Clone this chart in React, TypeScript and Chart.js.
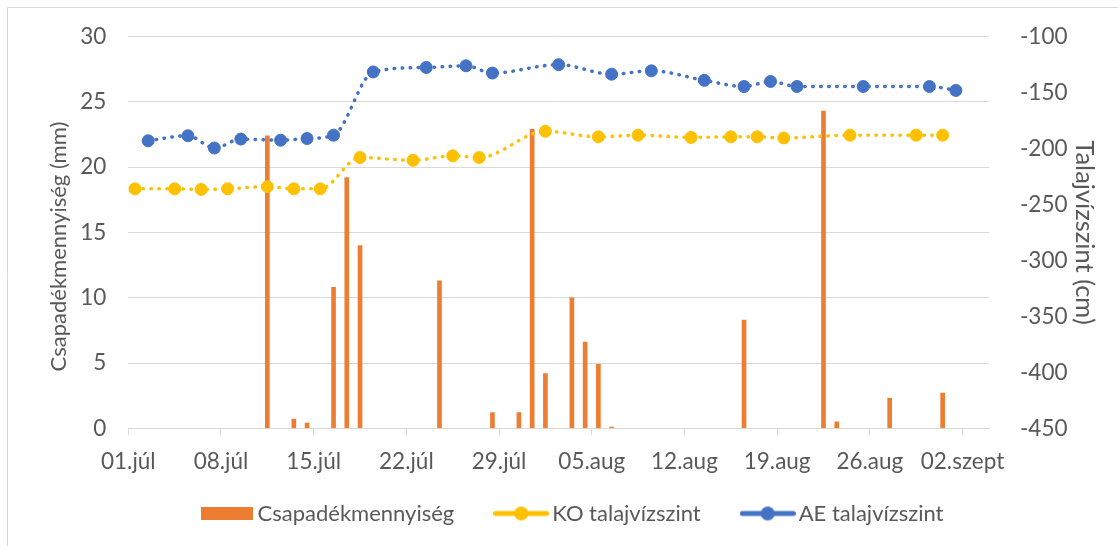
import React, { useEffect, useRef } from 'react';
import { Chart, registerables } from 'chart.js';

Chart.register(...registerables);

// ---- data ----
const tickDates = ['07-01', '07-08', '07-15', '07-22', '07-29', '08-05', '08-12', '08-19', '08-26', '09-02'];
const tickLabels = ['01.júl', '08.júl', '15.júl', '22.júl', '29.júl', '05.aug', '12.aug', '19.aug', '26.aug', '02.szept'];

const rainDates = ['07-11', '07-13', '07-14', '07-16', '07-17', '07-18', '07-24', '07-28', '07-30', '07-31', '08-01', '08-03', '08-04', '08-05', '08-06', '08-16', '08-22', '08-23', '08-27', '08-31'];
const rainMm = [22.4, 0.7, 0.4, 10.8, 19.2, 14.0, 11.3, 1.2, 1.2, 22.9, 4.2, 10.0, 6.6, 4.9, 0.1, 8.3, 24.3, 0.5, 2.3, 2.7];

const koDates = ['07-01', '07-04', '07-06', '07-08', '07-11', '07-13', '07-15', '07-18', '07-22', '07-25', '07-27', '08-01', '08-05', '08-08', '08-12', '08-15', '08-17', '08-19', '08-24', '08-29', '08-31'];
const koCm = [-236, -236, -236.5, -236, -234, -236, -236, -208, -210.5, -206.5, -208, -184.5, -189.5, -188, -190, -189.5, -189.5, -190.5, -188, -188, -188];

const aeDates = ['07-02', '07-05', '07-07', '07-09', '07-12', '07-14', '07-16', '07-19', '07-23', '07-26', '07-28', '08-02', '08-06', '08-09', '08-13', '08-16', '08-18', '08-20', '08-25', '08-30', '09-01'];
const aeCm = [-193, -188.5, -199.5, -191.5, -192.5, -191, -188, -131.5, -127.5, -126, -132.5, -125, -133.5, -130.5, -139, -144.5, -140, -144.5, -144.5, -144.5, -148];

const seriesNames = ['Csapadékmennyiség', 'KO talajvízszint', 'AE talajvízszint'];
const axisTitles = ['Csapadékmennyiség (mm)', 'Talajvízszint (cm)'];

// ---- style ----
const FONT = 'Lato, "Open Sans", sans-serif';
const TEXT = '#595959';
const GRID = '#D9D9D9';
const ORANGE = '#ED7D31';
const YELLOW = '#FFC000';
const BLUE = '#4472C4';
const FS = 22.5;
const LEGEND_FS = 22;

const monthStart: Record<number, number> = { 7: 0, 8: 31, 9: 62 };
const dayIndex = (md: string) => {
  const [m, d] = md.split('-').map(Number);
  return monthStart[m] + d - 1;
};
const toPoints = (dates: string[], vals: number[]) =>
  dates.map((d, i) => ({ x: dayIndex(d) + 0.5, y: vals[i] }));

function boxIcon(color: string, w: number, h: number) {
  const c = document.createElement('canvas');
  c.width = w;
  c.height = h;
  const g = c.getContext('2d')!;
  g.fillStyle = color;
  g.fillRect(0, 0, w, h);
  return c;
}
function lineIcon(color: string, w: number, h: number, lw: number, r: number) {
  const c = document.createElement('canvas');
  c.width = w;
  c.height = h;
  const g = c.getContext('2d')!;
  g.strokeStyle = color;
  g.lineWidth = lw;
  g.lineCap = 'round';
  g.beginPath();
  g.moveTo(lw / 2, h / 2);
  g.lineTo(w - lw / 2, h / 2);
  g.stroke();
  g.fillStyle = color;
  g.beginPath();
  g.arc(w / 2, h / 2, r, 0, Math.PI * 2);
  g.fill();
  return c;
}

const frame = {
  id: 'frame',
  afterLayout(chart: any) {
    // let the x tick labels extend below the (short) axis box without clipping
    const x = chart.scales.x;
    if (x) x.bottom = chart.height;
  },
  afterDraw(chart: any) {
    const { ctx, width, height } = chart;
    ctx.save();
    ctx.strokeStyle = GRID;
    ctx.lineWidth = 1;
    ctx.beginPath();
    ctx.moveTo(7.5, height);
    ctx.lineTo(7.5, 7.5);
    ctx.lineTo(width, 7.5);
    ctx.stroke();
    ctx.restore();
  },
};

export default function App() {
  const ref = useRef<HTMLCanvasElement>(null);
  useEffect(() => {
    if (!ref.current) return;
    const icons = [boxIcon(ORANGE, 52, 13), lineIcon(YELLOW, 56, 16, 5, 7), lineIcon(BLUE, 56, 16, 5, 7)];
    const lineCommon = {
      type: 'line' as const,
      yAxisID: 'y1',
      borderWidth: 3.5,
      borderDash: [0.5, 7.5],
      borderCapStyle: 'round' as const,
      cubicInterpolationMode: 'monotone' as const,
      pointRadius: 6,
      pointBorderWidth: 1,
      order: 0,
    };
    const chart = new Chart(ref.current, {
      type: 'bar',
      data: {
        datasets: [
          {
            type: 'bar',
            label: seriesNames[0],
            data: toPoints(rainDates, rainMm),
            backgroundColor: ORANGE,
            barThickness: 4,
            yAxisID: 'y',
            order: 10,
          },
          {
            ...lineCommon,
            label: seriesNames[1],
            data: toPoints(koDates, koCm),
            borderColor: YELLOW,
            backgroundColor: YELLOW,
            pointBackgroundColor: YELLOW,
            pointBorderColor: YELLOW,
          },
          {
            ...lineCommon,
            label: seriesNames[2],
            data: toPoints(aeDates, aeCm),
            borderColor: BLUE,
            backgroundColor: BLUE,
            pointBackgroundColor: BLUE,
            pointBorderColor: BLUE,
          },
        ] as any,
      },
      options: {
        animation: false,
        responsive: false,
        devicePixelRatio: 1,
        events: [],
        layout: { padding: { left: 32, right: 0, top: 36.7, bottom: 11.5 } },
        scales: {
          x: {
            type: 'linear',
            offset: false,
            min: 0,
            max: 65,
            afterBuildTicks: (s: any) => {
              s.ticks = tickDates.map((d) => ({ value: dayIndex(d) }));
            },
            afterFit: (s: any) => {
              s.height = 27.2;
            },
            ticks: {
              autoSkip: false,
              maxRotation: 0,
              padding: 13,
              color: TEXT,
              font: { family: FONT, size: FS },
              callback: (_v: any, i: number) => tickLabels[i],
            },
            grid: { offset: false, drawOnChartArea: false, drawTicks: true, tickLength: 7, color: GRID },
            border: { color: GRID, width: 1 },
          },
          y: {
            position: 'left',
            min: 0,
            max: 30,
            afterFit: (s: any) => {
              s.width = 96.3;
            },
            ticks: { stepSize: 5, padding: 22, color: TEXT, font: { family: FONT, size: FS } },
            grid: { color: GRID, drawTicks: false },
            border: { display: false },
            title: {
              display: true,
              text: axisTitles[0] + '     ',
              color: TEXT,
              font: { family: FONT, size: 22 },
              padding: { top: 13.8, bottom: 0 },
            },
          },
          y1: {
            position: 'right',
            min: -450,
            max: -100,
            afterFit: (s: any) => {
              s.width = 129;
            },
            ticks: { stepSize: 50, padding: 23, color: TEXT, font: { family: FONT, size: FS } },
            grid: { display: false },
            border: { display: false },
            title: {
              display: true,
              text: axisTitles[1],
              color: TEXT,
              font: { family: FONT, size: 25.5 },
              padding: { top: 18.7, bottom: 0 },
            },
          },
        },
        plugins: {
          tooltip: { enabled: false },
          legend: {
            position: 'bottom',
            labels: {
              usePointStyle: true,
              pointStyleWidth: 40,
              padding: 47,
              color: TEXT,
              font: { family: FONT, size: LEGEND_FS },
              sort: (a: any, b: any) => a.datasetIndex - b.datasetIndex,
              generateLabels: (c: any) => {
                const items = (Chart.defaults.plugins.legend.labels as any).generateLabels(c);
                return items.map((it: any) => ({ ...it, pointStyle: icons[it.datasetIndex], fontColor: TEXT }));
              },
            },
          },
        },
      } as any,
      plugins: [frame],
    });
    return () => chart.destroy();
  }, []);
  return (
    <div style={{ position: 'absolute', left: 0, top: 0, width: 1118, height: 546, background: '#fff' }}>
      <canvas ref={ref} width={1118} height={546} style={{ display: 'block' }} />
    </div>
  );
}
